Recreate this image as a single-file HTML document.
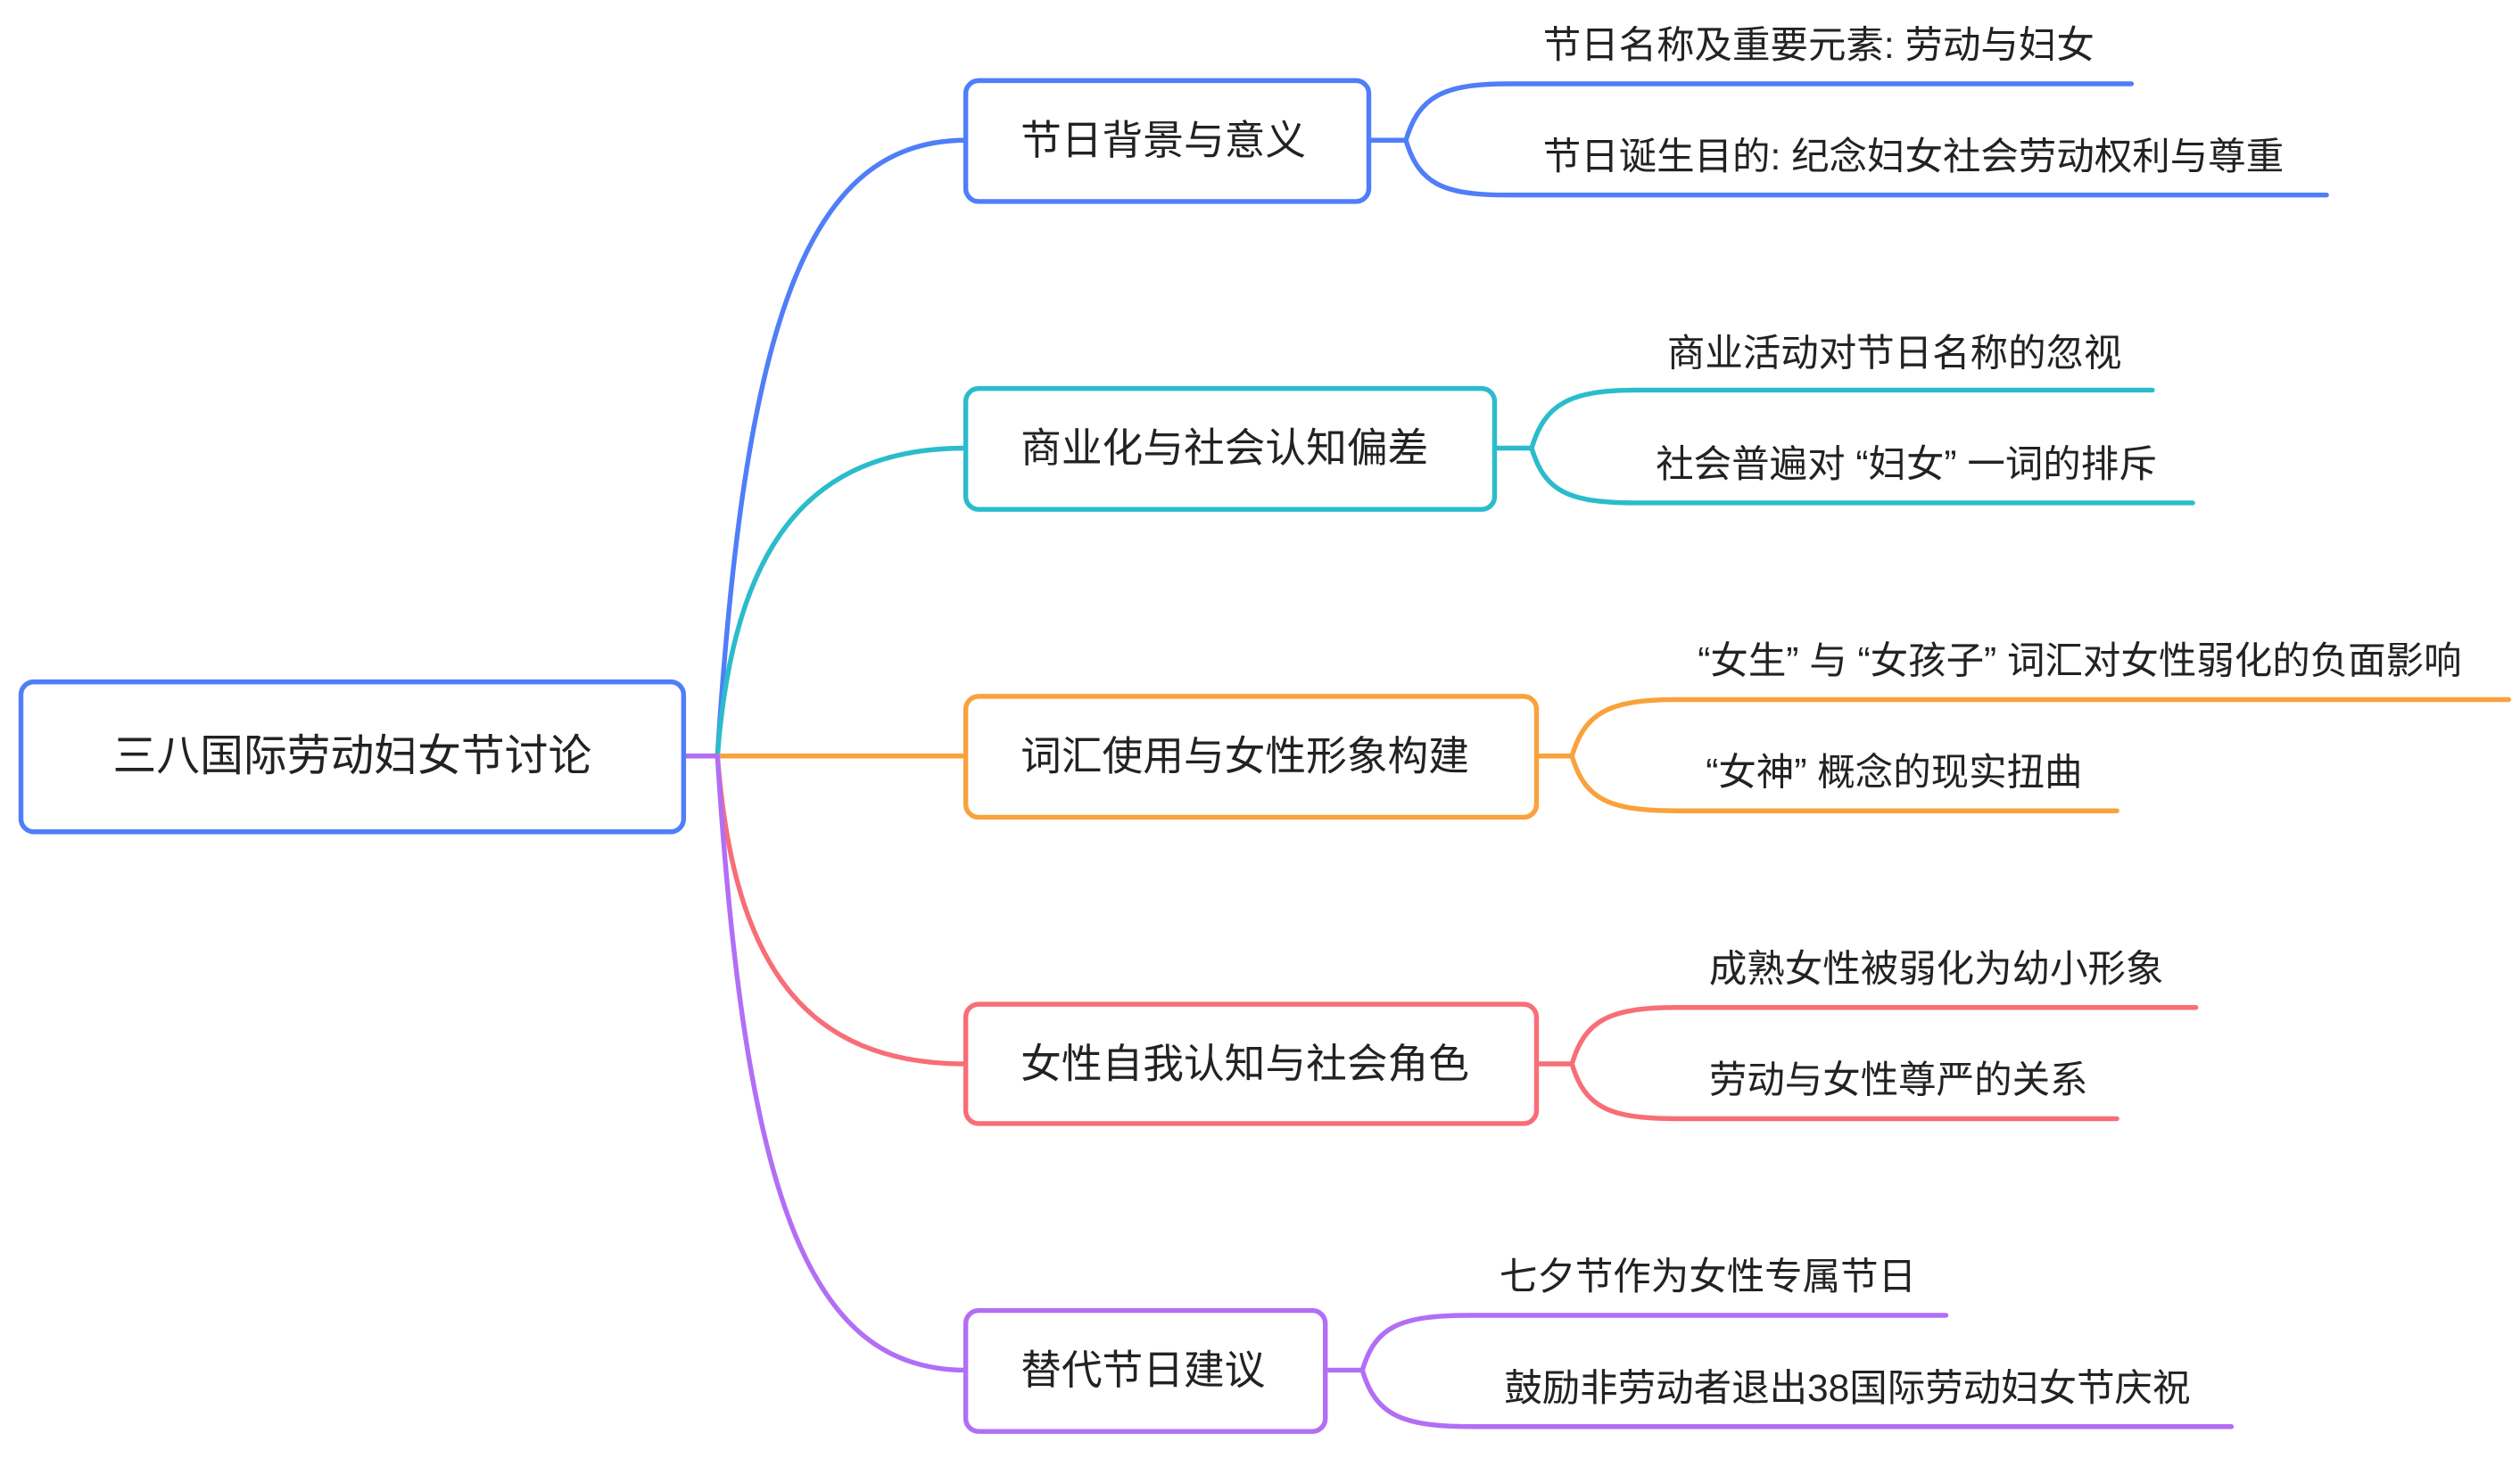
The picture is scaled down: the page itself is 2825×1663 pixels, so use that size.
<!DOCTYPE html>
<html><head><meta charset="utf-8"><style>
html,body{margin:0;padding:0;background:#fff;}
svg{display:block;}
text{font-family:"Liberation Sans","Noto Sans CJK SC",sans-serif;fill:#222;dominant-baseline:central;}
</style></head><body>
<svg width="2825" height="1663" viewBox="0 0 1563 920" preserveAspectRatio="none">
<g fill="none" stroke-width="3" stroke-linecap="round">
<!-- root to branches -->
<path d="M424 469 H445" stroke="#b26ef5"/>
<path d="M445 469 C462 200, 500 87, 599 87" stroke="#4f7ef8"/>
<path d="M445 469 C455 340, 500 278, 599 278" stroke="#2bbccc"/>
<path d="M445 469 H599" stroke="#f9a23c"/>
<path d="M445 469 C455 600, 500 660, 599 660" stroke="#f76e77"/>
<path d="M445 469 C462 740, 500 850, 599 850" stroke="#b26ef5"/>
<!-- B1 -->
<path d="M849 87 H872 C880 60, 895 52, 935 52 H1322" stroke="#4f7ef8"/>
<path d="M872 87 C880 114, 895 121, 935 121 H1443" stroke="#4f7ef8"/>
<!-- B2 -->
<path d="M927 278 H950 C958 251, 973 242, 1015 242 H1335" stroke="#2bbccc"/>
<path d="M950 278 C958 305, 973 312, 1015 312 H1360" stroke="#2bbccc"/>
<!-- B3 -->
<path d="M953 469 H975 C983 442, 998 434, 1040 434 H1556" stroke="#f9a23c"/>
<path d="M975 469 C983 496, 998 503, 1040 503 H1313" stroke="#f9a23c"/>
<!-- B4 -->
<path d="M953 660 H975 C983 633, 998 625, 1040 625 H1362" stroke="#f76e77"/>
<path d="M975 660 C983 687, 998 694, 1040 694 H1313" stroke="#f76e77"/>
<!-- B5 -->
<path d="M822 850 H845 C853 823, 868 816, 912 816 H1207" stroke="#b26ef5"/>
<path d="M845 850 C853 877, 868 885, 912 885 H1384" stroke="#b26ef5"/>
</g>
<g fill="#fff" stroke-width="3">
<rect x="13" y="423" width="411" height="93" rx="8" stroke="#4f7ef8"/>
<rect x="599" y="50" width="250" height="75" rx="8" stroke="#4f7ef8"/>
<rect x="599" y="241" width="328" height="75" rx="8" stroke="#2bbccc"/>
<rect x="599" y="432" width="354" height="75" rx="8" stroke="#f9a23c"/>
<rect x="599" y="623" width="354" height="74" rx="8" stroke="#f76e77"/>
<rect x="599" y="813" width="223" height="75" rx="8" stroke="#b26ef5"/>
</g>
<text x="70" y="469" font-size="27">三八国际劳动妇女节讨论</text>
<g font-size="25.3">
<text x="633" y="87">节日背景与意义</text>
<text x="633" y="278">商业化与社会认知偏差</text>
<text x="633" y="469">词汇使用与女性形象构建</text>
<text x="633" y="660">女性自我认知与社会角色</text>
<text x="633" y="850">替代节日建议</text>
</g>
<g font-size="23.5">
<text x="957" y="28">节日名称及重要元素: 劳动与妇女</text>
<text x="957" y="97">节日诞生目的: 纪念妇女社会劳动权利与尊重</text>
<text x="1034" y="219">商业活动对节日名称的忽视</text>
<text x="1027" y="288">社会普遍对 “妇女” 一词的排斥</text>
<text x="1053" y="410">“女生” 与 “女孩子” 词汇对女性弱化的负面影响</text>
<text x="1058" y="479">“女神” 概念的现实扭曲</text>
<text x="1060" y="601">成熟女性被弱化为幼小形象</text>
<text x="1060" y="670">劳动与女性尊严的关系</text>
<text x="930" y="792">七夕节作为女性专属节日</text>
<text x="933" y="861">鼓励非劳动者退出38国际劳动妇女节庆祝</text>
</g>
</svg>
</body></html>
